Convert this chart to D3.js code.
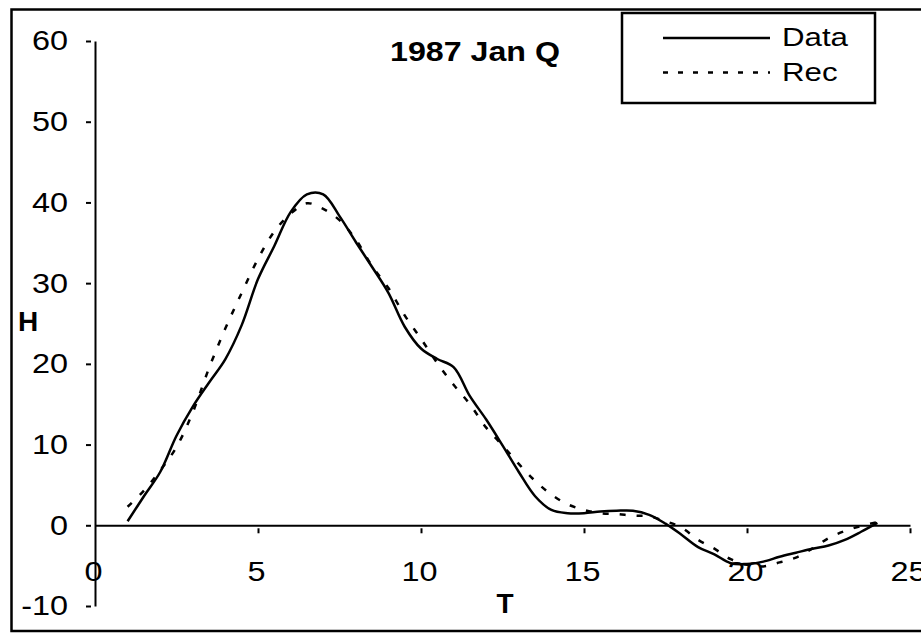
<!DOCTYPE html>
<html>
<head>
<meta charset="utf-8">
<script src="https://cdn.jsdelivr.net/npm/d3@7"></script>
<style>
  body { margin: 0; background: #fff; }
  svg { display: block; }
  text { font-family: "Liberation Sans", Arial, sans-serif; fill: #000; }
</style>
</head>
<body>
<svg id="chart" width="921" height="635"></svg>
<script>
// Hourly (half-hour) series for January, quiet days
const hours = [1, 1.5, 2, 2.5, 3, 3.5, 4, 4.5, 5, 5.5, 6, 6.5, 7, 7.5, 8, 8.5, 9, 9.5,
  10, 10.5, 11, 11.5, 12, 12.5, 13, 13.5, 14, 14.5, 15, 15.5, 16, 16.5, 17, 17.5,
  18, 18.5, 19, 19.5, 20, 20.5, 21, 21.5, 22, 22.5, 23, 23.5, 24];
const dataH = [0.5, 3.6, 6.6, 11.1, 14.7, 17.7, 20.6, 24.8, 30.5, 34.6, 38.8, 41.0, 41.0,
  38.3, 35.1, 32.0, 28.8, 24.6, 21.9, 20.6, 19.6, 16.0, 13.1, 9.9, 6.6, 3.6, 1.9, 1.5,
  1.5, 1.7, 1.8, 1.8, 1.3, 0.2, -1.2, -2.7, -3.6, -4.7, -4.8, -4.5, -3.9, -3.4, -2.9,
  -2.5, -1.8, -0.8, 0.3];
const recH = [2.3, 4.3, 6.8, 9.7, 14.0, 19.5, 24.4, 28.8, 33.0, 36.4, 38.6, 39.9, 39.2,
  37.8, 35.4, 32.1, 29.4, 26.0, 23.1, 20.1, 17.4, 15.0, 12.1, 9.9, 7.6, 5.5, 3.8, 2.6,
  1.9, 1.5, 1.4, 1.2, 1.1, 0.5, -0.3, -1.8, -2.9, -4.2, -4.9, -5.1, -4.6, -4.0, -2.9,
  -1.6, -0.7, -0.1, 0.4];
const xTicks = [0, 5, 10, 15, 20, 25];
const yTicks = [-10, 0, 10, 20, 30, 40, 50, 60];
const seriesNames = ["Data", "Rec"];
const titleText = "1987 Jan Q";
const xTitle = "T";
const yTitle = "H";

const svg = d3.select("#chart");
const W = 921, H = 635;
const stretch = 1.2; // horizontal widening of the text glyphs
const plainNum = d => String(d); // hyphen-minus, as in the original plot

// outer frame
svg.append("rect")
  .attr("x", 11.5).attr("y", 9.5)
  .attr("width", W + 10).attr("height", H - 11.5 - 2)
  .attr("fill", "#fff").attr("stroke", "#000").attr("stroke-width", 2.5);

const x = d3.scaleLinear().domain([0, 25]).range([95, 910]);
const y = d3.scaleLinear().domain([-10, 60]).range([606, 41]);

// x axis through H = 0
const gx = svg.append("g")
  .attr("transform", `translate(0,${y(0)})`)
  .call(d3.axisBottom(x).tickValues(xTicks).tickSizeInner(8).tickSizeOuter(0).tickFormat(plainNum));
gx.select(".domain").attr("stroke", "#000").attr("stroke-width", 2);
gx.selectAll(".tick line").attr("stroke", "#000").attr("stroke-width", 2).attr("y1", 3);
gx.selectAll(".tick").filter(d => d === 0).select("line").remove();
gx.selectAll(".tick text")
  .attr("y", 0).attr("dy", null)
  .attr("font-size", 27).attr("font-family", null)
  .attr("text-anchor", "middle")
  .attr("transform", `translate(-2,56) scale(${stretch},1)`);

// y axis at T = 0
const gy = svg.append("g")
  .attr("transform", `translate(${x(0)},0)`)
  .call(d3.axisLeft(y).tickValues(yTicks).tickSizeInner(9).tickSizeOuter(0).tickFormat(plainNum));
gy.select(".domain").attr("stroke", "#000").attr("stroke-width", 2);
gy.selectAll(".tick line").attr("stroke", "#000").attr("stroke-width", 2).attr("x1", -4);
gy.selectAll(".tick text")
  .attr("x", 0).attr("dy", "0.33em")
  .attr("font-size", 27).attr("font-family", null)
  .attr("text-anchor", "end")
  .attr("transform", `translate(-27,0) scale(${stretch},1)`);
gy.selectAll("text").attr("fill", "#000");
gx.selectAll("text").attr("fill", "#000");

// series lines
const pts = (vals) => hours.map((t, i) => [t, vals[i]]);
const line = d3.line()
  .x(d => x(d[0])).y(d => y(d[1]))
  .curve(d3.curveCatmullRom.alpha(0.5));

svg.append("path")
  .datum(pts(recH))
  .attr("d", line)
  .attr("fill", "none").attr("stroke", "#000")
  .attr("stroke-width", 2.5).attr("stroke-dasharray", "6,11");

svg.append("path")
  .datum(pts(dataH))
  .attr("d", line)
  .attr("fill", "none").attr("stroke", "#000")
  .attr("stroke-width", 2.5).attr("stroke-linejoin", "round");

// chart title
svg.append("text")
  .attr("transform", `translate(390,61) scale(1.15,1)`)
  .attr("font-size", 28).attr("font-weight", "bold")
  .text(titleText);

// axis titles
svg.append("text")
  .attr("x", 18).attr("y", 331)
  .attr("font-size", 28).attr("font-weight", "bold")
  .text(yTitle);
svg.append("text")
  .attr("x", 505).attr("y", 613)
  .attr("text-anchor", "middle")
  .attr("font-size", 28).attr("font-weight", "bold")
  .text(xTitle);

// legend
const lg = svg.append("g").attr("transform", "translate(622,13)");
lg.append("rect")
  .attr("width", 253).attr("height", 90)
  .attr("fill", "#fff").attr("stroke", "#000").attr("stroke-width", 2.5);
const rows = lg.selectAll("g.row").data(seriesNames).join("g")
  .attr("class", "row")
  .attr("transform", (d, i) => `translate(0,${25 + i * 34.5})`);
rows.append("line")
  .attr("x1", 41).attr("x2", 148).attr("y1", 0).attr("y2", 0)
  .attr("stroke", "#000").attr("stroke-width", 2.5)
  .attr("stroke-dasharray", (d, i) => i === 0 ? null : "5,10");
rows.append("text")
  .attr("transform", `translate(160,8) scale(1.25,1)`)
  .attr("font-size", 25)
  .text(d => d);
</script>
</body>
</html>
